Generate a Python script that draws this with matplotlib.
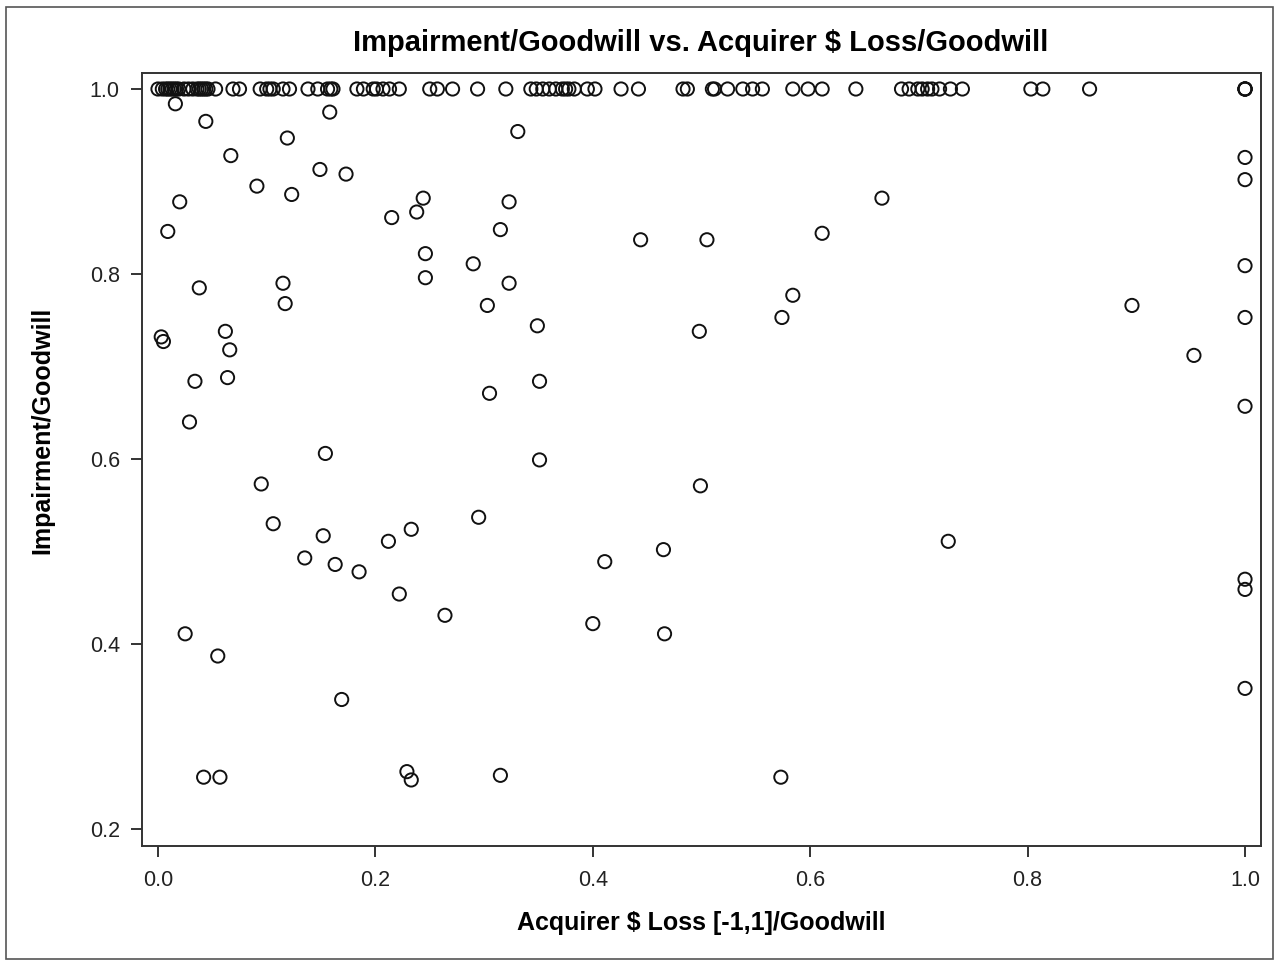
import matplotlib
matplotlib.use("Agg")
import matplotlib.pyplot as plt
from matplotlib.patches import Rectangle

# Points with Impairment/Goodwill == 1.0 (x = Acquirer $ Loss/Goodwill)
full_x = [0.000, 0.004, 0.007, 0.009, 0.011, 0.013, 0.015, 0.017, 0.019, 0.024,
          0.028, 0.032, 0.036, 0.038, 0.040, 0.042, 0.044, 0.046,
          0.053, 0.069, 0.075, 0.094, 0.100, 0.103, 0.106, 0.115, 0.121, 0.138,
          0.147, 0.156, 0.159, 0.161, 0.183, 0.189, 0.198, 0.201, 0.207, 0.213,
          0.222, 0.250, 0.257, 0.271, 0.294, 0.320, 0.343, 0.348, 0.354, 0.360,
          0.366, 0.372, 0.375, 0.378, 0.383, 0.395, 0.402, 0.426, 0.442, 0.483,
          0.487, 0.510, 0.512, 0.524, 0.538, 0.547, 0.556, 0.584, 0.598, 0.611,
          0.642, 0.684, 0.691, 0.699, 0.703, 0.708, 0.712, 0.719, 0.729, 0.740,
          0.803, 0.814, 0.857, 1.000, 1.000, 1.000, 1.000]
full_y = [1.0] * len(full_x)

# Remaining points
other_x = [0.016, 0.044, 0.158, 0.119, 0.331, 0.067, 0.149, 0.173, 0.091, 0.123,
           0.020, 0.244, 0.238, 0.215, 0.323, 0.009, 0.315, 0.246, 0.290, 0.246,
           0.038, 0.115, 0.323, 0.117, 0.303, 0.003, 0.005, 0.062, 0.066, 0.034,
           0.064, 0.305, 0.029, 0.154,
           0.666, 0.444, 0.505, 0.611, 0.584, 0.574, 0.349, 0.498, 0.351, 0.351,
           1.000, 1.000, 1.000, 0.896, 1.000, 0.953, 1.000,
           0.095, 0.106, 0.152, 0.135, 0.163, 0.185, 0.212, 0.233, 0.295, 0.222,
           0.264, 0.025, 0.055, 0.169, 0.042, 0.057, 0.229, 0.233, 0.315,
           0.499, 0.411, 0.465, 0.400, 0.466, 0.573,
           0.727, 1.000, 1.000, 1.000]
other_y = [0.984, 0.965, 0.975, 0.947, 0.954, 0.928, 0.913, 0.908, 0.895, 0.886,
           0.878, 0.882, 0.867, 0.861, 0.878, 0.846, 0.848, 0.822, 0.811, 0.796,
           0.785, 0.790, 0.790, 0.768, 0.766, 0.732, 0.727, 0.738, 0.718, 0.684,
           0.688, 0.671, 0.640, 0.606,
           0.882, 0.837, 0.837, 0.844, 0.777, 0.753, 0.744, 0.738, 0.684, 0.599,
           0.926, 0.902, 0.809, 0.766, 0.753, 0.712, 0.657,
           0.573, 0.530, 0.517, 0.493, 0.486, 0.478, 0.511, 0.524, 0.537, 0.454,
           0.431, 0.411, 0.387, 0.340, 0.256, 0.256, 0.262, 0.253, 0.258,
           0.571, 0.489, 0.502, 0.422, 0.411, 0.256,
           0.511, 0.470, 0.459, 0.352]

x_ticks = [0.0, 0.2, 0.4, 0.6, 0.8, 1.0]
y_ticks = [0.2, 0.4, 0.6, 0.8, 1.0]

title = "Impairment/Goodwill vs. Acquirer $ Loss/Goodwill"
xlabel = "Acquirer $ Loss [-1,1]/Goodwill"
ylabel = "Impairment/Goodwill"

plt.rcParams['font.family'] = ['Liberation Sans', 'DejaVu Sans']

W, H = 1284, 961
fig = plt.figure(figsize=(W / 100, H / 100), dpi=100)
ax = fig.add_axes([142 / W, 1 - 846 / H, (1261 - 142) / W, (846 - 73) / H])

xs = full_x + other_x
ys = full_y + other_y
ax.scatter(xs, ys, s=9.5 ** 2, facecolors='none', edgecolors='#111111',
           linewidths=1.4, zorder=3, clip_on=False)

ax.set_xlim(-0.0147, 1.0147)
ax.set_ylim(0.1816, 1.0173)
ax.set_xticks(x_ticks)
ax.set_yticks(y_ticks)
ax.set_xticklabels([f"{v:.1f}" for v in x_ticks])
ax.set_yticklabels([f"{v:.1f}" for v in y_ticks])

for sp in ax.spines.values():
    sp.set_linewidth(1.4)
    sp.set_color('#333333')
ax.tick_params(direction='out', length=8, width=1.4, color='#333333',
               labelsize=15.5, labelcolor='#222222')
ax.tick_params(axis='x', pad=9)
ax.tick_params(axis='y', pad=8)

fig.text(701 / W, 1 - 43 / H, title, fontsize=21, fontweight='bold',
         ha='center', va='center')

ax.set_xlabel(xlabel, fontsize=18, fontweight='bold')
ax.xaxis.set_label_coords(701 / W, 1 - 923 / H, transform=fig.transFigure)
ax.xaxis.label.set_verticalalignment('center')
ax.set_ylabel(ylabel, fontsize=18, fontweight='bold')
ax.yaxis.set_label_coords(42 / W, 1 - 430 / H, transform=fig.transFigure)
ax.yaxis.label.set_verticalalignment('center')

fig.patches.append(Rectangle((6 / W, 2 / H), (1273 - 6) / W, (958 - 6) / H,
                             transform=fig.transFigure, fill=False,
                             edgecolor='#555555', linewidth=1.2))

fig.savefig("out.png", dpi=100, facecolor='white')
